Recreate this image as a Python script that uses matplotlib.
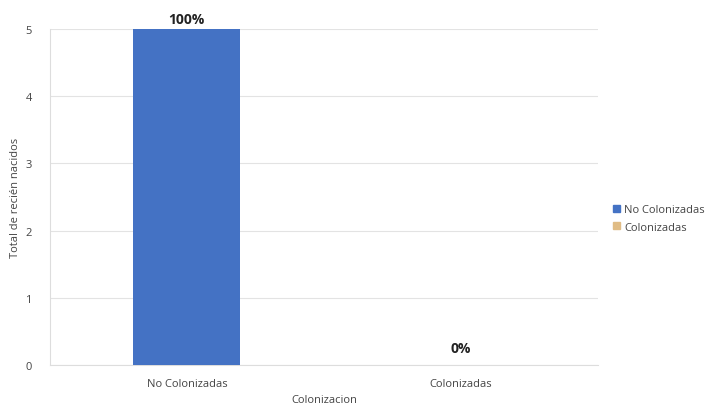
import matplotlib.pyplot as plt
from matplotlib.patches import Patch

categorias = ["No Colonizadas", "Colonizadas"]
totales = [5, 0]
porcentajes = ["100%", "0%"]
colores = ["#4472C4", "#E0BC85"]

plt.rcParams["font.family"] = ["Open Sans", "DejaVu Sans"]

fig = plt.figure(figsize=(7.22, 4.10), dpi=100)
ax = fig.add_axes([0.069, 0.107, 0.759, 0.820])

x = range(len(categorias))
barras = ax.bar(x, totales, width=0.39, color=colores, zorder=3)

# etiquetas de porcentaje encima de cada barra
for b, p in zip(barras, porcentajes):
    ax.annotate(p, (b.get_x() + b.get_width() / 2, b.get_height()),
                xytext=(0, 2 if b.get_height() > 0 else 7), textcoords="offset points",
                ha="center", va="bottom", fontsize=10, fontweight="bold", color="#222222")

ax.set_xlim(-0.5, 1.5)
ax.set_ylim(0, 5)
ax.set_xticks(list(x))
ax.set_xticklabels(categorias, fontsize=8, color="#444444")
ax.set_yticks(range(6))
ax.tick_params(axis="y", labelsize=8, labelcolor="#444444", length=0, pad=13)
ax.tick_params(axis="x", length=0, pad=9)
ax.grid(axis="y", color="#e3e3e3", linewidth=0.8, zorder=0)

for s in ["top", "right"]:
    ax.spines[s].set_visible(False)
ax.spines["left"].set_color("#dddddd")
ax.spines["bottom"].set_color("#dddddd")

ax.set_xlabel("Colonizacion", fontsize=8, color="#444444", labelpad=4)
ax.set_ylabel("Total de recién nacidos", fontsize=8, color="#444444", labelpad=3)

handles = [Patch(color=c, label=n) for c, n in zip(colores, categorias)]
fig.legend(handles=handles, loc="center left", bbox_to_anchor=(0.835, 0.465),
           frameon=False, fontsize=8, handlelength=0.6, handleheight=0.6,
           handletextpad=0.4, labelspacing=0.6, labelcolor="#444444")

fig.savefig("out.png", dpi=100)
